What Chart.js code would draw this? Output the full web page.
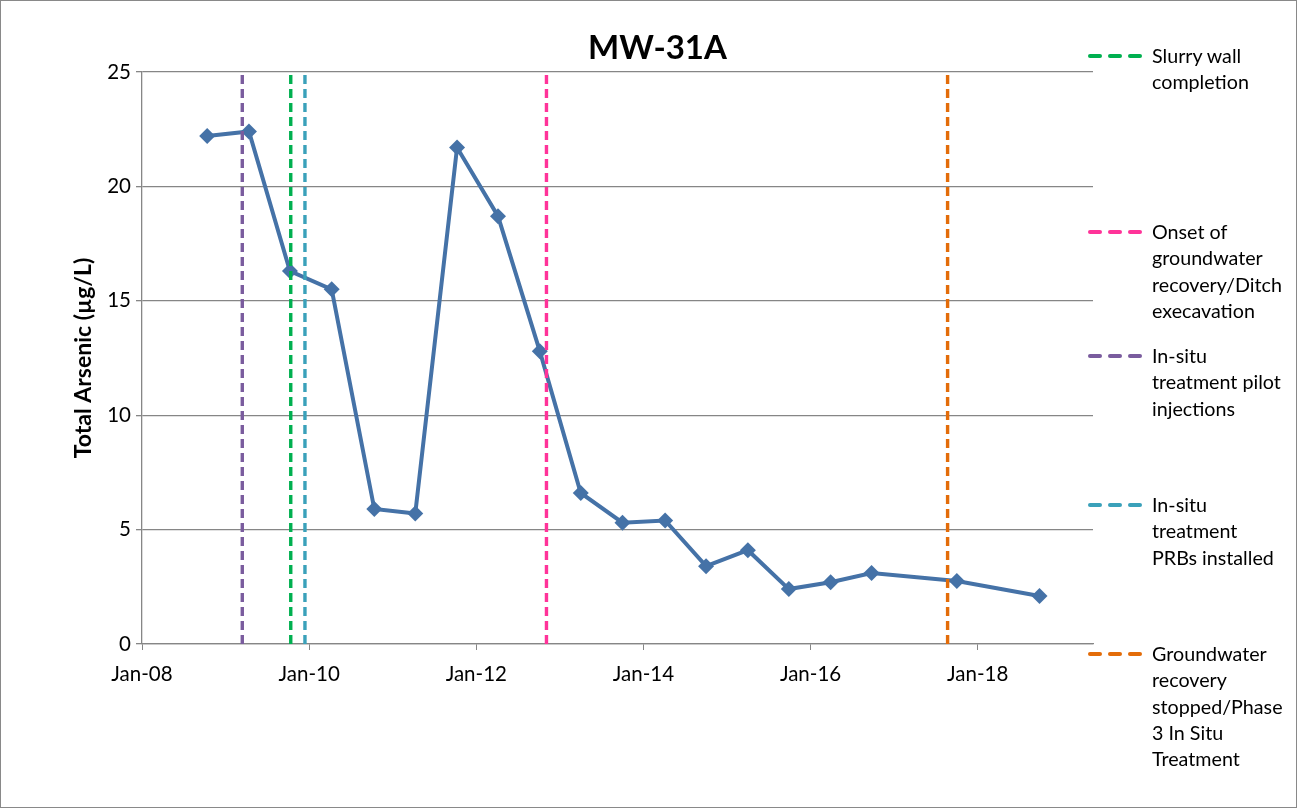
<!DOCTYPE html>
<html><head><meta charset="utf-8">
<script src="https://cdn.jsdelivr.net/npm/chart.js@4.4.1/dist/chart.umd.min.js"></script>
<style>
html,body{margin:0;padding:0;background:#fff;}
#wrap{position:relative;width:1297px;height:808px;overflow:hidden;}
#c{position:absolute;left:0;top:0;}
#frame{position:absolute;left:0;top:0;width:1295px;height:806px;border:1px solid #898989;pointer-events:none;}
#legend{position:absolute;left:0;top:0;width:1297px;height:808px;font-family:Lato,'Open Sans',sans-serif;font-size:19.7px;color:#000;}
.sw{position:absolute;left:1088px;height:4px;}
.sw span{position:absolute;top:0;width:14px;height:4px;border-radius:2px;}
.txt{position:absolute;left:1152px;line-height:26.4px;white-space:nowrap;}
</style></head>
<body>
<div id="wrap"><canvas id="c" width="1297" height="808"></canvas><div id="legend"></div><div id="frame"></div></div>
<script>
// Sample dates (decimal years) and Total Arsenic (µg/L)
const sampleDates = [2008.78, 2009.28, 2009.77, 2010.27, 2010.78, 2011.27, 2011.77, 2012.26, 2012.76, 2013.25, 2013.75, 2014.26, 2014.75, 2015.25, 2015.74, 2016.24, 2016.73, 2017.75, 2018.74];
const arsenic     = [22.2, 22.4, 16.3, 15.5, 5.9, 5.7, 21.7, 18.7, 12.8, 6.6, 5.3, 5.4, 3.4, 4.1, 2.4, 2.7, 3.1, 2.75, 2.1];
// Event lines
const eventLabels = [["Slurry wall","completion"],["Onset of","groundwater","recovery/Ditch","execavation"],["In-situ","treatment pilot","injections"],["In-situ","treatment","PRBs installed"],["Groundwater","recovery","stopped/Phase","3 In Situ","Treatment"]];
const eventDates  = [2009.78, 2012.84, 2009.20, 2009.95, 2017.64];
const eventColors = ['#00B050', '#FF3399', '#7A5C9E', '#3AA1BA', '#E36C09'];
const legendTops  = [56, 232, 356, 505, 654];
// Axis
const xTickYears = [2008, 2010, 2012, 2014, 2016, 2018];
const yMin = 0, yMax = 25, yStep = 5;
const xMin = 2008, xMax = 2019.38;
const chartTitle = 'MW-31A';
const yTitle = 'Total Arsenic (µg/L)';

const FONT = 'Lato, "Open Sans", sans-serif';

const datasets = [];
eventDates.forEach((d, i) => {
  datasets.push({
    type: 'line',
    label: eventLabels[i].join(' '),
    data: [{x: d, y: yMin}, {x: d, y: yMax}],
    borderColor: eventColors[i],
    borderWidth: 3.4,
    borderDash: [9, 5],
    pointRadius: 0,
    order: 0
  });
});
datasets.push({
  type: 'line',
  label: 'MW-31A',
  data: sampleDates.map((d, i) => ({x: d, y: arsenic[i]})),
  borderColor: '#4572A7',
  backgroundColor: '#4572A7',
  borderWidth: 4,
  pointStyle: 'rectRot',
  pointRadius: 8,
  pointBorderWidth: 0,
  tension: 0,
  order: 1
});

new Chart(document.getElementById('c'), {
  type: 'line',
  data: { datasets },
  options: {
    responsive: false,
    animation: false,
    layout: { padding: { left: 66, right: 48, top: 0, bottom: 0 } },
    plugins: {
      legend: { display: false },
      tooltip: { enabled: false },
      title: {
        display: true,
        text: chartTitle,
        color: '#000',
        font: { family: FONT, size: 33, weight: 'bold', lineHeight: 1.2 },
        padding: { top: 28.2, bottom: 4.2 }
      }
    },
    scales: {
      x: {
        type: 'linear',
        min: xMin, max: xMax,
        afterFit: s => { s.height = 164; },
        afterBuildTicks: s => { s.ticks = xTickYears.map(v => ({value: v})); },
        ticks: {
          includeBounds: false,
          autoSkip: false,
          maxRotation: 0,
          color: '#000',
          padding: 12,
          font: { family: FONT, size: 20.5 },
          callback: v => 'Jan-' + String(Math.round(v) % 100).padStart(2, '0')
        },
        grid: { drawOnChartArea: false, drawTicks: true, tickLength: 6, color: '#868686', lineWidth: 1 },
        border: { display: true, color: '#868686', width: 1.3 }
      },
      y: {
        min: yMin, max: yMax,
        afterFit: s => { s.width = 76; },
        ticks: { stepSize: yStep, color: '#000', padding: 5, font: { family: FONT, size: 20.5 } },
        grid: { color: '#868686', lineWidth: 1.3, tickLength: 6 },
        border: { display: true, color: '#868686', width: 1.3 },
        title: {
          display: true,
          text: yTitle,
          color: '#000',
          font: { family: FONT, size: 23, weight: 'bold' },
          padding: { top: 4, bottom: 4 }
        }
      },
      yRightSpace: {
        type: 'linear',
        position: 'right',
        display: true,
        afterFit: s => { s.width = 156; },
        grid: { display: false, drawTicks: false },
        ticks: { display: false },
        border: { display: false }
      }
    }
  }
});

// Legend (wrapped text entries on the right)
const leg = document.getElementById('legend');
eventLabels.forEach((lines, i) => {
  const sw = document.createElement('div');
  sw.className = 'sw';
  sw.style.top = (legendTops[i] - 2) + 'px';
  for (let k = 0; k < 3; k++) {
    const s = document.createElement('span');
    s.style.left = (k * 20) + 'px';
    s.style.background = eventColors[i];
    sw.appendChild(s);
  }
  leg.appendChild(sw);
  const t = document.createElement('div');
  t.className = 'txt';
  t.style.top = (legendTops[i] - 13.2) + 'px';
  t.innerHTML = lines.join('<br>');
  leg.appendChild(t);
});
</script>
</body></html>
